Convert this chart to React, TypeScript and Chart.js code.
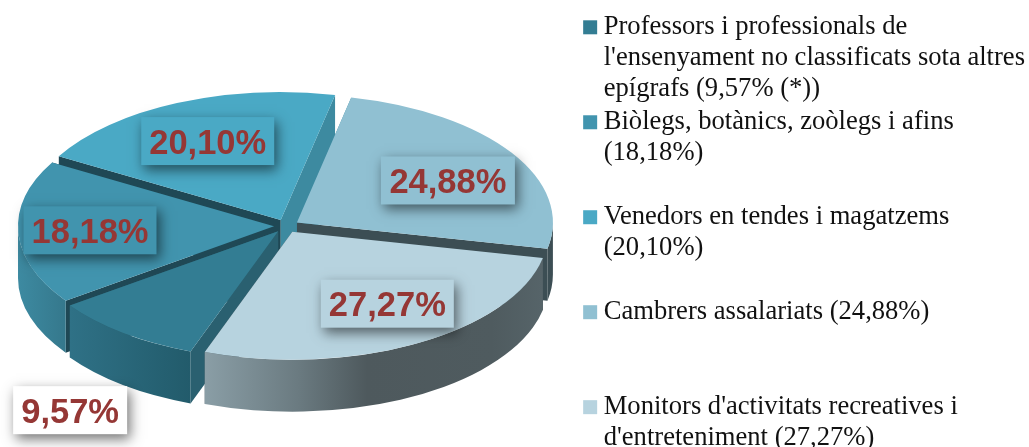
import { useEffect, useRef } from "react";
import { Chart, registerables } from "chart.js";

Chart.register(...registerables);

const categories = [
  "Professors i professionals de l'ensenyament no classificats sota altres epígrafs",
  "Biòlegs, botànics, zoòlegs i afins",
  "Venedors en tendes i magatzems",
  "Cambrers assalariats",
  "Monitors d'activitats recreatives i d'entreteniment",
];
const shares = [9.57, 18.18, 20.1, 24.88, 27.27];
const legendLines = [
  ["Professors i professionals de", "l'ensenyament no classificats sota altres", "epígrafs (9,57% (*))"],
  ["Biòlegs, botànics, zoòlegs i afins", "(18,18%)", ""],
  ["Venedors en tendes i magatzems", "(20,10%)", ""],
  ["Cambrers assalariats (24,88%)", "", ""],
  ["Monitors d'activitats recreatives i", "d'entreteniment (27,27%)", ""],
];
const topColors = ["#337d93", "#4194ae", "#4aa9c5", "#90c0d2", "#b7d3df"];
const wallStops = [
  [[0, "#2f7186"], [1, "#225b6b"]],
  [[0, "#3d8aa1"], [1, "#35788c"]],
  [[0, "#3d8aa0"], [1, "#3d8aa0"]],
  [[0, "#3c4e54"], [1, "#3c4e54"]],
  [[0, "#8a9ea6"], [0.28, "#6a7a80"], [0.48, "#4e595d"], [0.85, "#4f5b5f"], [1, "#566469"]],
];
const startCutColors = ["#2a6070", "#1f4855", "#1f4855", "#3d8aa0", "#3c4e54"];
const endCutColors = ["#2a6070", "#1f4855", "#3d8aa0", "#3c4e54", "#3c4e54"];
const explode = [13, 12, 13, 13, 13];
const drawOrder = [2, 3, 1, 0, 4];
const labelOffsets = [
  [-208, 179],
  [-184, 4],
  [-73, -79],
  [151, -42],
  [95, 72],
];
const labelWidths = [114, 133, 133, 134, 133];
const labelFills = ["#ffffff", "#4194ae", "#4aa9c5", "#90c0d2", "#b7d3df"];
const labelTexts = shares.map((v) => v.toFixed(2).replace(".", ",") + "%");

const CX = 286;
const CY = 226;
const SQUASH = 0.5;
const DEPTH = 52;
const RADIUS = 256;
const TWO_PI = Math.PI * 2;

const pie3d = {
  id: "pie3d",
  afterLayout(chart: any) {
    // The legend swatches are drawn as a thick stroke that overhangs the legend's box.
    const legend = chart.legend;
    legend.draw = () => legend._draw();
  },
  beforeDatasetsDraw(chart: any) {
    const ctx = chart.ctx as CanvasRenderingContext2D;
    const arcs = chart.getDatasetMeta(0).data;
    drawOrder.forEach((i) => {
      const arc = arcs[i];
      const a0 = arc.startAngle;
      const a1 = arc.endAngle;
      const r = arc.outerRadius;
      const mid = (a0 + a1) / 2;
      const x = CX + Math.cos(mid) * explode[i];
      const y = CY + Math.sin(mid) * explode[i] * SQUASH;
      const px = (a: number) => x + Math.cos(a) * r;
      const py = (a: number) => y + Math.sin(a) * r * SQUASH;

      const quad = (a: number, color: string) => {
        ctx.beginPath();
        ctx.moveTo(x, y);
        ctx.lineTo(px(a), py(a));
        ctx.lineTo(px(a), py(a) + DEPTH);
        ctx.lineTo(x, y + DEPTH);
        ctx.closePath();
        ctx.fillStyle = color;
        ctx.fill();
      };
      quad(a0, startCutColors[i]);
      quad(a1, endCutColors[i]);

      [0, TWO_PI].forEach((turn) => {
        const from = Math.max(a0, turn);
        const to = Math.min(a1, turn + Math.PI);
        if (to <= from) return;
        const g = ctx.createLinearGradient(px(to), 0, px(from), 0);
        wallStops[i].forEach(([s, c]: any) => g.addColorStop(s, c));
        ctx.beginPath();
        ctx.ellipse(x, y, r, r * SQUASH, 0, from, to);
        ctx.ellipse(x, y + DEPTH, r, r * SQUASH, 0, to, from, true);
        ctx.closePath();
        ctx.fillStyle = g;
        ctx.fill();
      });

      ctx.save();
      ctx.translate(x, y);
      ctx.scale(1, SQUASH);
      ctx.translate(-arc.x, -arc.y);
      arc.draw(ctx);
      ctx.restore();
    });

    ctx.save();
    ctx.font = "bold 34.5px 'Liberation Sans'";
    ctx.textAlign = "center";
    ctx.textBaseline = "middle";
    drawOrder.forEach((i) => {
      const mid = (arcs[i].startAngle + arcs[i].endAngle) / 2;
      const lx = CX + Math.cos(mid) * explode[i] + labelOffsets[i][0];
      const ly = CY + Math.sin(mid) * explode[i] * SQUASH + labelOffsets[i][1];
      const w = labelWidths[i];
      ctx.save();
      ctx.shadowColor = "rgba(0,0,0,0.55)";
      ctx.shadowBlur = 12;
      ctx.shadowOffsetX = 3;
      ctx.shadowOffsetY = 5;
      ctx.fillStyle = labelFills[i];
      ctx.fillRect(lx - w / 2, ly - 24, w, 48);
      ctx.restore();
      ctx.fillStyle = "#953735";
      ctx.fillText(labelTexts[i], lx, ly + 3);
    });
    ctx.restore();
    return false;
  },
};

export default function App() {
  const ref = useRef<HTMLCanvasElement>(null);
  useEffect(() => {
    const chart = new Chart(ref.current!, {
      type: "pie",
      data: {
        labels: categories,
        datasets: [
          {
            data: shares,
            backgroundColor: topColors,
            borderWidth: 0,
            radius: RADIUS,
            rotation: 200,
          } as any,
        ],
      },
      options: {
        responsive: false,
        animation: false,
        events: [],
        layout: { padding: { top: 12, right: -6, left: 0, bottom: 0 } },
        plugins: {
          tooltip: { enabled: false },
          legend: {
            position: "right",
            align: "start",
            labels: {
              font: { family: "'Liberation Serif'", size: 26.6, lineHeight: 1.165 },
              color: "#111111",
              boxWidth: 0.5,
              boxHeight: 0.5,
              padding: 2,
              generateLabels: () =>
                legendLines.map((text, i) => ({
                  text,
                  fillStyle: topColors[i],
                  strokeStyle: topColors[i],
                  lineWidth: 13.5,
                  lineJoin: "miter",
                  hidden: false,
                  index: i,
                  fontColor: "#111111",
                })) as any,
            },
          },
        },
      },
      plugins: [pie3d as any],
    });
    return () => chart.destroy();
  }, []);
  return (
    <div style={{ position: "absolute", left: 0, top: 0, width: 1029, height: 447, overflow: "hidden", background: "#fff" }}>
      <canvas ref={ref} width={1029} height={540} style={{ display: "block" }} />
    </div>
  );
}
